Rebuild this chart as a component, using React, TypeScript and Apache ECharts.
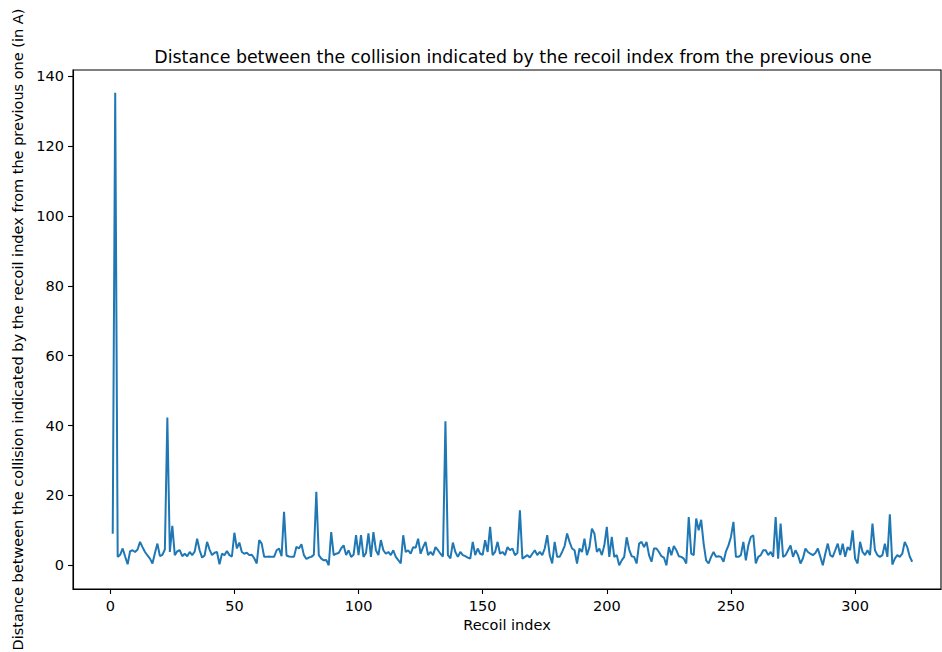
import React, { useEffect, useRef } from "react";
import * as echarts from "echarts";

// Distance (in Å) between consecutive collisions, by recoil index
const recoilDistances: number[] = [
  9.0, 135.3, 2.4, 3.0, 4.8, 2.5, 0.3, 4.0, 4.3, 3.8,
  4.5, 6.7, 5.2, 3.8, 2.8, 1.9, 0.5, 3.5, 6.2, 2.6,
  3.0, 4.5, 42.3, 3.8, 11.3, 2.9, 4.0, 4.3, 2.6, 3.3,
  2.6, 3.8, 2.9, 3.9, 7.6, 4.3, 2.2, 2.8, 6.7, 4.5,
  2.9, 3.6, 3.8, 0.3, 3.3, 2.9, 4.1, 2.9, 2.5, 9.3,
  4.8, 6.5, 3.8, 3.3, 3.6, 2.9, 3.0, 2.0, 0.5, 7.2,
  6.2, 2.4, 2.4, 2.5, 2.4, 2.4, 4.3, 4.8, 2.6, 15.3,
  2.8, 2.5, 2.4, 2.4, 5.3, 4.8, 6.0, 2.9, 1.8, 2.2,
  2.4, 3.0, 21.0, 2.9, 1.9, 1.4, 1.5, 0.0, 9.5, 2.9,
  3.3, 3.5, 4.8, 5.7, 2.9, 4.3, 2.4, 3.0, 8.6, 2.9,
  8.6, 2.4, 3.5, 9.1, 2.4, 9.5, 4.3, 2.9, 7.2, 4.3,
  3.3, 3.8, 2.9, 4.3, 2.4, 1.5, 0.5, 8.6, 3.8, 4.3,
  3.3, 5.2, 5.0, 7.6, 3.3, 5.2, 6.7, 2.9, 3.8, 2.9,
  5.2, 4.3, 3.3, 2.5, 41.2, 2.9, 2.0, 6.5, 3.8, 2.4,
  3.8, 2.9, 2.6, 2.2, 1.9, 6.7, 2.9, 4.8, 3.3, 3.0,
  7.2, 3.8, 11.0, 2.9, 3.8, 6.7, 3.3, 3.8, 2.9, 5.2,
  4.3, 4.8, 2.9, 3.5, 15.7, 1.9, 2.4, 2.9, 2.2, 3.3,
  4.3, 2.9, 3.8, 2.9, 4.8, 8.6, 2.9, 0.5, 6.7, 2.4,
  2.4, 3.8, 5.5, 9.1, 6.7, 4.8, 4.3, 0.5, 4.8, 3.8,
  7.6, 2.9, 5.2, 10.5, 9.1, 3.8, 4.8, 2.9, 5.7, 11.0,
  2.4, 8.1, 2.4, 2.9, 0.0, 1.4, 2.4, 8.0, 4.5, 2.6,
  2.4, 0.5, 6.2, 6.7, 5.2, 6.7, 2.9, 1.0, 4.8, 4.8,
  3.8, 2.6, 2.2, 0.0, 5.2, 2.9, 5.5, 4.3, 2.6, 2.4,
  1.9, 0.5, 13.8, 3.3, 2.9, 13.4, 10.0, 13.0, 6.2, 1.4,
  0.5, 2.4, 3.8, 2.4, 2.6, 2.4, 1.0, 4.0, 5.7, 8.1,
  12.4, 2.4, 2.4, 2.9, 6.7, 1.4, 5.7, 8.1, 8.6, 0.5,
  2.4, 2.9, 4.3, 4.3, 2.9, 3.8, 2.4, 13.8, 1.9, 11.9,
  2.4, 2.9, 4.3, 5.7, 2.4, 4.3, 2.9, 0.5, 2.0, 4.8,
  3.8, 3.3, 2.9, 3.5, 4.8, 2.4, 0.0, 3.3, 6.2, 2.9,
  2.4, 4.3, 6.2, 2.9, 6.2, 2.4, 5.2, 4.3, 10.0, 1.9,
  0.5, 6.7, 3.8, 2.9, 4.3, 2.9, 11.9, 4.3, 2.9, 2.4,
  2.9, 6.2, 2.4, 14.6, 0.2, 1.9, 2.9, 2.4, 3.3, 6.7,
  5.2, 2.5, 1.0,
];

// Recoil indices start at 1
const recoilIndices: number[] = recoilDistances.map((_, i) => i + 1);

const xTicks: number[] = [0, 50, 100, 150, 200, 250, 300];
const yTicks: number[] = [0, 20, 40, 60, 80, 100, 120, 140];

const titleText =
  "Distance between the collision indicated by the recoil index from the previous one";
const xAxisTitle = "Recoil index";
const yAxisTitle =
  "Distance between the collision indicated by the recoil index from the previous one (in A)";

const FONT = "DejaVu Sans";
const LABEL_SIZE = 14.5;

export default function App() {
  const ref = useRef<HTMLDivElement>(null);

  useEffect(() => {
    if (!ref.current) return;
    const chart = echarts.init(ref.current, undefined, { renderer: "svg" });

    const points = recoilIndices.map((x, i) => [x, recoilDistances[i]]);

    chart.setOption({
      animation: false,
      backgroundColor: "#ffffff",
      textStyle: { fontFamily: FONT },
      title: {
        text: titleText,
        left: 508,
        textAlign: "center",
        top: 43,
        textStyle: {
          fontFamily: FONT,
          fontSize: 17.4,
          fontWeight: "normal",
          color: "#000",
        },
      },
      grid: {
        left: 73,
        right: 1,
        top: 70,
        bottom: 63,
        show: true,
        borderColor: "#000",
        borderWidth: 1.1,
        containLabel: false,
        outerBoundsMode: "none",
      },
      xAxis: {
        type: "value",
        min: -15,
        max: 334.6,
        name: xAxisTitle,
        nameLocation: "middle",
        nameGap: 28,
        nameTextStyle: { fontFamily: FONT, fontSize: LABEL_SIZE, color: "#000" },
        splitLine: { show: false },
        axisLine: { show: true, onZero: false, lineStyle: { color: "#000", width: 1.1 } },
        axisTick: {
          show: true,
          length: 5,
          customValues: xTicks,
          lineStyle: { color: "#000", width: 1.1 },
        },
        axisLabel: {
          customValues: xTicks,
          margin: 9,
          fontFamily: FONT,
          fontSize: LABEL_SIZE,
          color: "#000",
        },
      },
      yAxis: {
        type: "value",
        min: -6.8,
        max: 141.8,
        name: yAxisTitle,
        nameLocation: "middle",
        nameRotate: 90,
        nameGap: 46,
        nameTextStyle: { fontFamily: FONT, fontSize: LABEL_SIZE, color: "#000" },
        splitLine: { show: false },
        axisLine: { show: true, onZero: false, lineStyle: { color: "#000", width: 1.1 } },
        axisTick: {
          show: true,
          length: 5,
          customValues: yTicks,
          lineStyle: { color: "#000", width: 1.1 },
        },
        axisLabel: {
          customValues: yTicks,
          margin: 9,
          fontFamily: FONT,
          fontSize: LABEL_SIZE,
          color: "#000",
        },
      },
      series: [
        {
          type: "line",
          data: points,
          showSymbol: false,
          symbol: "none",
          lineStyle: { color: "#1f77b4", width: 2 },
          clip: true,
        },
      ],
    });

    return () => chart.dispose();
  }, []);

  return (
    <div
      ref={ref}
      style={{ position: "fixed", left: 0, top: 0, width: 942, height: 652 }}
    />
  );
}
